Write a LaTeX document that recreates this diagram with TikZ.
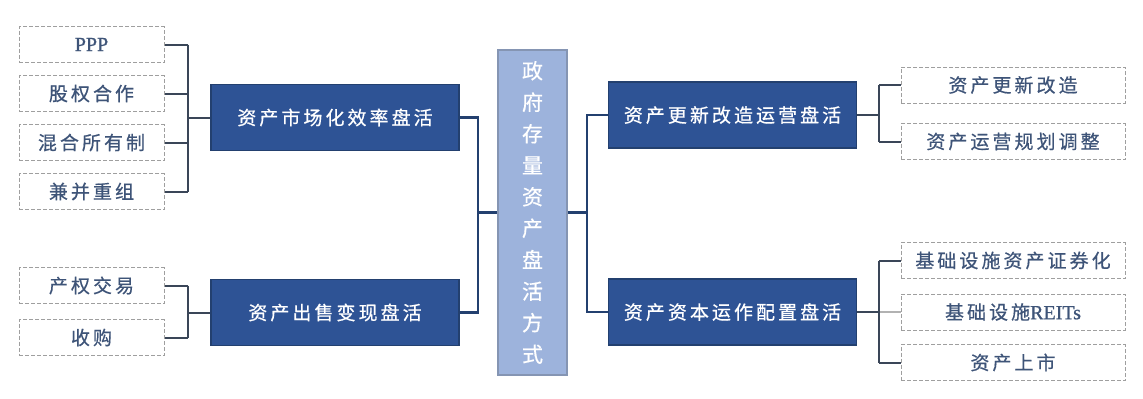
\documentclass[tikz,border=0pt]{standalone}
\usepackage{fontspec}
\usepackage{xcolor}
\usepackage{tikz}
\usetikzlibrary{calc,positioning}
\newfontfamily\cjk{Noto Sans CJK SC}[LetterSpace=16,FakeBold=0.6]
\newfontfamily\cjkv{Noto Sans CJK SC}[FakeBold=0.6]
\newfontfamily\latina{Liberation Serif}[FakeBold=1]
\definecolor{azul}{HTML}{2E5395}
\definecolor{azulborde}{HTML}{23406F}
\definecolor{celeste}{HTML}{9DB3DC}
\definecolor{celesteborde}{HTML}{8595B3}
\definecolor{hojatexto}{HTML}{3E5478}
\definecolor{linea}{HTML}{3A4658}
\tikzset{
  rama/.style={fill=azul,draw=azulborde,line width=0.6pt,text=white,
    minimum width=124pt,minimum height=33pt,inner sep=0pt,font=\cjk\fontsize{9.5pt}{11pt}\selectfont},
  hoja/.style={draw=gray!75,dash pattern=on 2pt off 1pt,line width=0.5pt,text=hojatexto,
    minimum height=18pt,inner sep=0pt,font=\cjk\fontsize{9.5pt}{11pt}\selectfont},
  raiz/.style={fill=celeste,draw=celesteborde,line width=0.8pt,text=white,
    minimum width=34.5pt,minimum height=162.5pt,inner sep=0pt,align=center,
    font=\cjkv\fontsize{10.5pt}{15.75pt}\selectfont},
  conector/.style={draw=linea,line width=1pt},
  tronco/.style={draw=azulborde,line width=1.1pt}
}

\begin{document}
\begin{tikzpicture}[x=0.5pt,y=-0.5pt]
\useasboundingbox (0,0) rectangle (1143,398);
% raiz
\node[raiz] (raiz) at (532.5,212.5) {政\\府\\存\\量\\资\\产\\盘\\活\\方\\式};
% ramas
\node[rama] (mercado) at (335,117.5) {资产市场化效率盘活};
\node[rama] (venta) at (335,312.5) {资产出售变现盘活};
\node[rama] (renova) at (732.5,115) {资产更新改造运营盘活};
\node[rama] (capital) at (732.5,312) {资产资本运作配置盘活};
% hojas izquierda
\node[hoja,minimum width=72.5pt] (ppp) at (91.5,44.5) {\latina\fontsize{10pt}{11pt}\selectfont PPP};
\node[hoja,minimum width=72.5pt] (equidad) at (91.5,93.5) {股权合作};
\node[hoja,minimum width=72.5pt] (mixta) at (91.5,142.5) {混合所有制};
\node[hoja,minimum width=72.5pt] (fusion) at (91.5,191.5) {兼并重组};
\node[hoja,minimum width=72.5pt] (derechos) at (91.5,285.5) {产权交易};
\node[hoja,minimum width=72.5pt] (compra) at (91.5,337.5) {收购};
% hojas derecha
\node[hoja,minimum width=112pt] (obra) at (1013,85) {资产更新改造};
\node[hoja,minimum width=112pt] (plan) at (1013,141.5) {资产运营规划调整};
\node[hoja,minimum width=112pt] (titulo) at (1013,260.5) {基础设施资产证券化};
\node[hoja,minimum width=112pt] (reits) at (1013,312) {基础设施{\latina\fontsize{10pt}{11pt}\selectfont REITs}};
\node[hoja,minimum width=112pt] (bolsa) at (1013,362.5) {资产上市};
% ejes de los corchetes
\coordinate (ejeI) at (188,0);
\coordinate (ejeD) at (879,0);
\coordinate (troncoI) at (478,0);
\coordinate (troncoD) at (587,0);
% corchetes izquierda
\foreach \h in {ppp,equidad,mixta,fusion}
  \draw[conector] (\h.east) -- (\h.east -| ejeI);
\draw[conector] (ppp.east -| ejeI) -- (fusion.east -| ejeI);
\draw[conector] (mercado.west -| ejeI) -- (mercado.west);
\foreach \h in {derechos,compra}
  \draw[conector] (\h.east) -- (\h.east -| ejeI);
\draw[conector] (derechos.east -| ejeI) -- (compra.east -| ejeI);
\draw[conector] (venta.west -| ejeI) -- (venta.west);
% corchetes derecha
\foreach \h in {obra,plan}
  \draw[conector] (\h.west) -- (\h.west -| ejeD);
\draw[conector] (obra.west -| ejeD) -- (plan.west -| ejeD);
\draw[conector] (renova.east) -- (renova.east -| ejeD);
\foreach \h in {titulo,bolsa}
  \draw[conector] (\h.west) -- (\h.west -| ejeD);
\draw[conector,draw=gray!60,line width=0.6pt] (reits.west) -- (reits.west -| ejeD);
\draw[conector] (titulo.west -| ejeD) -- (bolsa.west -| ejeD);
\draw[conector] (capital.east) -- (capital.east -| ejeD);
% troncos
\draw[tronco] (mercado.east) -| (venta.east -| troncoI) -- (venta.east);
\draw[tronco] (raiz.west -| troncoI) -- (raiz.west);
\draw[tronco] (raiz.east) -- (raiz.east -| troncoD);
\draw[tronco] (renova.west) -| (capital.west -| troncoD) -- (capital.west);
\end{tikzpicture}
\end{document}
